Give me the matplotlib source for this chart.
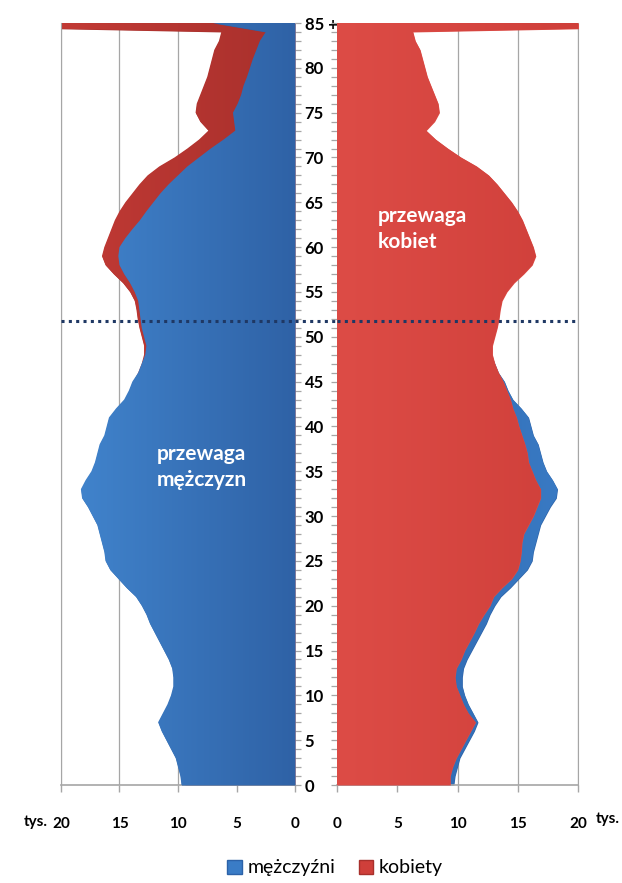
#!/usr/bin/env python
import matplotlib
matplotlib.use('Agg')

import numpy as np
import matplotlib.pyplot as plt
from matplotlib.colors import LinearSegmentedColormap
from matplotlib.ticker import MultipleLocator, FixedLocator
from matplotlib.patches import Patch

######################################################################
## DATA (tys. osob wg wieku, ostatni punkt = 85+)

wiek = np.arange(0, 86)
mezczyzni = [9.7, 9.8, 10.0, 10.2, 10.6, 11.0, 11.4, 11.7, 11.3, 10.9,
             10.6, 10.4, 10.4, 10.5, 10.8, 11.2, 11.6, 12.0, 12.4, 12.7,
             13.1, 13.6, 14.4, 15.1, 15.8, 16.2, 16.3, 16.5, 16.7, 16.9,
             17.3, 17.7, 18.2, 18.3, 17.9, 17.4, 17.1, 16.9, 16.7, 16.3,
             16.1, 15.9, 15.3, 14.6, 14.2, 13.9, 13.4, 13.1, 12.8, 12.7,
             12.9, 13.1, 13.2, 13.3, 13.4, 13.7, 14.1, 14.6, 15.0, 15.1,
             15.0, 14.5, 13.9, 13.25, 12.7, 12.1, 11.5, 10.8, 10.0, 9.2,
             8.2, 7.2, 6.1, 5.1, 5.2, 5.3, 4.9, 4.6, 4.4, 4.1,
             3.85, 3.6, 3.3, 3.0, 2.5, 7.0]
kobiety = [9.4, 9.4, 9.6, 9.9, 10.3, 10.7, 11.1, 11.5, 10.9, 10.5,
           10.2, 9.9, 9.8, 9.9, 10.3, 10.6, 11.0, 11.4, 11.75, 12.2,
           12.7, 13.0, 13.7, 14.5, 15.0, 15.2, 15.3, 15.35, 15.5, 15.9,
           16.3, 16.6, 16.9, 16.9, 16.5, 16.2, 15.9, 15.8, 15.6, 15.35,
           15.1, 14.9, 14.6, 14.4, 14.1, 13.8, 13.4, 13.1, 12.9, 12.9,
           13.1, 13.3, 13.45, 13.55, 13.7, 14.1, 14.7, 15.5, 16.2, 16.5,
           16.3, 16.0, 15.7, 15.4, 15.0, 14.5, 13.9, 13.3, 12.6, 11.6,
           10.3, 9.2, 8.2, 7.4, 8.1, 8.5, 8.4, 8.1, 7.8, 7.5,
           7.3, 7.1, 6.9, 6.5, 6.3, 45.0]

wiek_ticks = list(range(0, 86, 5))
wiek_labels = [str(t) for t in range(0, 85, 5)] + ['85 +']
tys_ticks = [0, 5, 10, 15, 20]
granica_wieku = 51.8

######################################################################

plt.rcParams['font.family'] = ['Lato', 'DejaVu Sans']

W, H = 622.0, 883.0
fig = plt.figure(figsize=(W / 100, H / 100), dpi=100)

def box(x0, x1, y0, y1):
    return [x0 / W, 1 - y1 / H, (x1 - x0) / W, (y1 - y0) / H]

ax_l = fig.add_axes(box(61, 295, 23, 785))
ax_r = fig.add_axes(box(337, 578, 23, 785))

def gradient_area(ax, values, c_in, c_out, z):
    poly = ax.fill_betweenx(wiek, 0, values, color=c_in, lw=0, zorder=z)
    cmap = LinearSegmentedColormap.from_list('g', [c_in, c_out])
    grad = np.linspace(0, 1, 256).reshape(1, -1)
    im = ax.imshow(grad, cmap=cmap, aspect='auto', extent=[0, 20, 0, 86],
                   origin='lower', zorder=z + 0.1, interpolation='bicubic')
    im.set_clip_path(poly.get_paths()[0], transform=ax.transData)

# left panel: kobiety behind mezczyzni
gradient_area(ax_l, kobiety, '#a8302c', '#c23a35', 2)
gradient_area(ax_l, mezczyzni, '#2f62a6', '#4286cf', 3)

# right panel: mezczyzni behind kobiety
gradient_area(ax_r, mezczyzni, '#2c62a8', '#3a7cc6', 2)
gradient_area(ax_r, kobiety, '#dd4c46', '#cf3f3a', 3)

grid_col = '#a6a6a6'
for ax in (ax_l, ax_r):
    ax.set_ylim(0, 85)
    ax.set_xticks(tys_ticks)
    ax.set_axisbelow(True)
    ax.grid(axis='x', color=grid_col, lw=0.9)
    ax.grid(axis='y', visible=False)
    for s in ax.spines.values():
        s.set_visible(False)
    ax.spines['bottom'].set_visible(True)
    ax.spines['bottom'].set_color(grid_col)
    ax.spines['bottom'].set_linewidth(1.2)
    ax.tick_params(axis='x', direction='out', length=5, width=1.0, color=grid_col,
                   pad=18, labelsize=11)
    for t in ax.get_xticklabels():
        t.set_fontweight('bold')
    ax.yaxis.set_major_locator(FixedLocator(wiek_ticks))
    ax.yaxis.set_minor_locator(MultipleLocator(1))
    ax.tick_params(axis='y', which='both', direction='out', length=4, width=0.9,
                   color=grid_col)
    # dotted line
    ax.axhline(granica_wieku, color='#1f3864', lw=2.2, ls=(0, (1, 1.4)), zorder=10)

ax_l.set_xlim(20, 0)
ax_r.set_xlim(0, 20)
ax_l.spines['left'].set_visible(True)
ax_l.spines['left'].set_color(grid_col)
ax_r.spines['right'].set_visible(True)
ax_r.spines['right'].set_color(grid_col)

ax_l.yaxis.tick_right()
ax_l.set_yticklabels(wiek_labels, fontweight='bold', fontsize=12)
ax_l.tick_params(axis='y', which='major', pad=3)
ax_r.yaxis.tick_left()
ax_r.set_yticklabels([])

# dotted line through the gap between panels
p_l = ax_l.get_position()
p_r = ax_r.get_position()
ax_l.axhline(granica_wieku, xmin=1, xmax=(p_r.x0 - p_l.x0) / p_l.width,
             color='#1f3864', lw=2.2, ls=(0, (1, 1.4)), clip_on=False, zorder=10)

# annotations
ax_l.text(11.8, 35.5, 'przewaga\nmężczyzn', color='white', fontsize=15,
          fontweight='bold', ha='left', va='center', linespacing=1.35, zorder=12)
ax_r.text(3.4, 62.0, 'przewaga\nkobiet', color='white', fontsize=15,
          fontweight='bold', ha='left', va='center', linespacing=1.35, zorder=12)

fig.text(48 / W, 1 - 822 / H, 'tys.', fontsize=11, fontweight='bold',
         ha='right', va='center')
fig.text(596 / W, 1 - 819 / H, 'tys.', fontsize=11, fontweight='bold',
         ha='left', va='center')

# legend
handles = [Patch(facecolor='#3a7cc6', edgecolor='#2c62a8', label='mężczyźni'),
           Patch(facecolor='#cf3f3a', edgecolor='#a8302c', label='kobiety')]
fig.legend(handles=handles, loc='center', bbox_to_anchor=(335 / W, 1 - 868 / H),
           ncol=2, frameon=False, fontsize=14, handlelength=0.75, handleheight=0.75,
           handletextpad=0.3, columnspacing=1.2)

plt.savefig('out.png', dpi=100)
